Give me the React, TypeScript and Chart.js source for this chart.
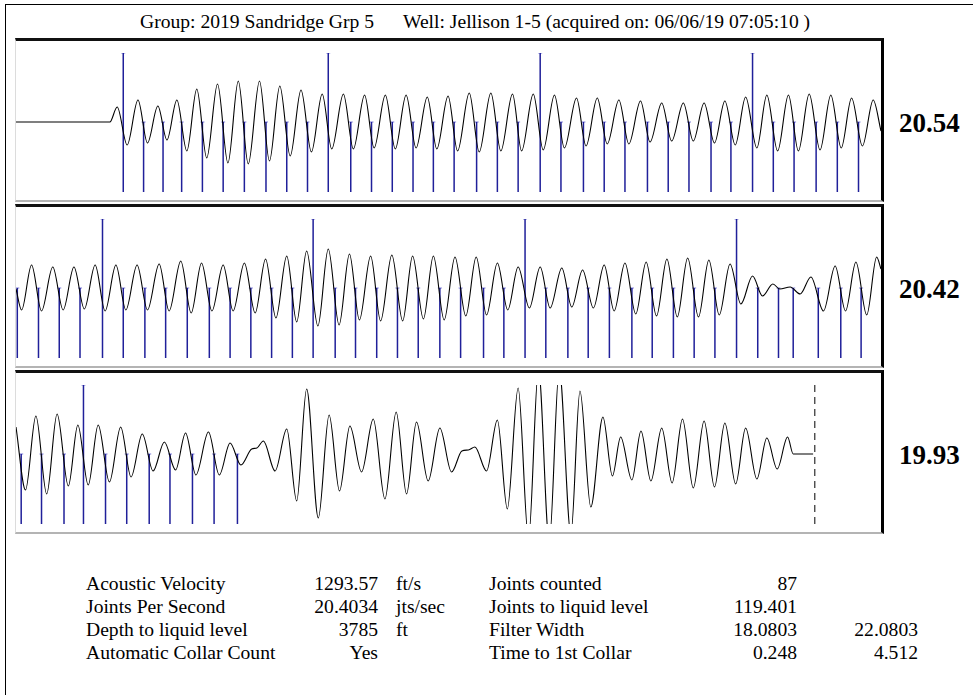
import React, { useEffect, useRef } from "react";
import { Chart, registerables } from "chart.js";

Chart.register(...registerables);

type Sample = [number, number];

// ---------- data ----------
const HEADER_GROUP = "Group: 2019 Sandridge Grp 5";
const HEADER_WELL = "Well: Jellison 1-5 (acquired on: 06/06/19 07:05:10 )";

// time window (s) of each trace strip
const PANEL_START = [0, 2, 4];
const PANEL_SPAN = 2;
const PANEL_RATES = ["20.54", "20.42", "19.93"];

// amplitude window of the strips
const AMP_MIN = -70;
const AMP_MAX = 69;
const SHORT_TOP = 0;

// acoustic trace, [time s, amplitude] (extrema of each cycle)
const WAVE_1: Sample[] = [
  [0, 0], [0.217, 0], [0.234, 15], [0.257, -23], [0.282, 22], [0.304, -21], [0.328, 16], [0.349, -18],
  [0.372, 22], [0.395, -29], [0.418, 33], [0.441, -36], [0.466, 38], [0.49, -41], [0.514, 41], [0.537, -42],
  [0.563, 41], [0.586, -39], [0.61, 36], [0.634, -34], [0.659, 32], [0.683, -30], [0.708, 28], [0.73, -27],
  [0.757, 28], [0.78, -27], [0.806, 27], [0.828, -26], [0.854, 27], [0.877, -27], [0.902, 27], [0.925, -26],
  [0.951, 25], [0.973, -27], [0.999, 26], [1.021, -29], [1.048, 29], [1.071, -30], [1.098, 29], [1.121, -29],
  [1.148, 28], [1.169, -29], [1.196, 28], [1.219, -28], [1.245, 27], [1.268, -26], [1.296, 24], [1.318, -24],
  [1.344, 24], [1.367, -22], [1.394, 22], [1.417, -22], [1.444, 21], [1.466, -20], [1.493, 19], [1.516, -19],
  [1.543, 19], [1.566, -19], [1.591, 19], [1.615, -21], [1.639, 21], [1.663, -23], [1.687, 25], [1.713, -26],
  [1.736, 27], [1.761, -29], [1.786, 27], [1.809, -29], [1.834, 28], [1.859, -28], [1.884, 27], [1.908, -26],
  [1.932, 24], [1.957, -24], [1.982, 22], [2.0, -9],
];

const WAVE_2: Sample[] = [
  [2.0, -1], [2.013, -22], [2.036, 23], [2.059, -23], [2.085, 21], [2.109, -22], [2.134, 21], [2.158, -21],
  [2.183, 23], [2.206, -23], [2.231, 23], [2.254, -22], [2.28, 23], [2.304, -22], [2.331, 24], [2.354, -23],
  [2.381, 27], [2.405, -25], [2.429, 25], [2.453, -23], [2.479, 23], [2.502, -23], [2.528, 25], [2.553, -25],
  [2.577, 29], [2.601, -30], [2.626, 32], [2.649, -34], [2.672, 37], [2.698, -38], [2.722, 39], [2.747, -37],
  [2.771, 34], [2.794, -32], [2.82, 32], [2.843, -33], [2.869, 33], [2.894, -33], [2.917, 32], [2.942, -31],
  [2.965, 32], [2.99, -32], [3.015, 31], [3.04, -28], [3.064, 31], [3.088, -27], [3.113, 25], [3.137, -22],
  [3.161, 21], [3.187, -20], [3.212, 21], [3.235, -20], [3.262, 20], [3.285, -19], [3.31, 18], [3.335, -20],
  [3.36, 23], [3.383, -23], [3.408, 25], [3.433, -26], [3.457, 26], [3.481, -28], [3.505, 29], [3.529, -29],
  [3.553, 30], [3.578, -29], [3.602, 28], [3.626, -27], [3.651, 24], [3.676, -16], [3.703, 12], [3.726, -8],
  [3.75, 4], [3.766, -1], [3.79, 1], [3.813, -6], [3.838, 11], [3.867, -23], [3.894, 22], [3.918, -23],
  [3.942, 26], [3.967, -27], [3.99, 31], [4.0, 19],
];

const WAVE_3: Sample[] = [
  [4.0, 27], [4.022, -36], [4.046, 38], [4.071, -40], [4.095, 40], [4.121, -32], [4.143, 29], [4.167, -31],
  [4.19, 29], [4.216, -28], [4.242, 27], [4.266, -23], [4.292, 20], [4.317, -17], [4.343, 12], [4.369, -16],
  [4.392, 21], [4.416, -21], [4.445, 22], [4.47, -21], [4.495, 11], [4.52, -11], [4.545, 5], [4.557, 6],
  [4.572, 13], [4.599, -17], [4.626, 25], [4.649, -47], [4.672, 65], [4.699, -64], [4.724, 39], [4.748, -37],
  [4.772, 28], [4.799, -18], [4.826, 35], [4.853, -45], [4.879, 42], [4.903, -40], [4.926, 32], [4.953, -27],
  [4.98, 26], [5.007, -18], [5.031, 3], [5.046, 4], [5.061, 7], [5.088, -17], [5.113, 34], [5.136, -55],
  [5.161, 66], [5.185, -85], [5.208, 85], [5.233, -88], [5.256, 85], [5.283, -80], [5.304, 63], [5.329, -53],
  [5.357, 37], [5.379, -22], [5.398, 17], [5.424, -26], [5.445, 23], [5.468, -27], [5.493, 26], [5.517, -29],
  [5.541, 35], [5.566, -34], [5.591, 33], [5.615, -33], [5.639, 31], [5.664, -30], [5.687, 26], [5.713, -25],
  [5.736, 16], [5.76, -15], [5.784, 17], [5.797, 0], [5.843, 0],
];

// collar picks (s)
const SHORT_1 = [
  0.295, 0.34, 0.383, 0.431, 0.479, 0.528, 0.578, 0.626, 0.674,
  0.774, 0.822, 0.87, 0.918, 0.965, 1.013, 1.065, 1.113, 1.161,
  1.26, 1.312, 1.36, 1.408, 1.46, 1.508, 1.556, 1.607, 1.653,
  1.751, 1.799, 1.85, 1.899, 1.948,
];
const TALL_1 = [0.248, 0.722, 1.212, 1.703];

const SHORT_2 = [
  2.003, 2.052, 2.1, 2.148,
  2.248, 2.298, 2.346, 2.396, 2.447, 2.495, 2.543, 2.591, 2.639,
  2.738, 2.785, 2.834, 2.882, 2.93, 2.98, 3.028, 3.081, 3.128,
  3.225, 3.276, 3.323, 3.372, 3.424, 3.471, 3.52, 3.568, 3.616,
  3.715, 3.763, 3.797, 3.855, 3.907, 3.954,
];
const TALL_2 = [2.2, 2.687, 3.177, 3.666];

const SHORT_3 = [4.012, 4.059, 4.111, 4.207, 4.256, 4.308, 4.356, 4.408, 4.458, 4.512];
const TALL_3 = [4.156];

const LIQUID_MARK_3 = [5.847];

const TABLE_LEFT_LABELS = ["Acoustic Velocity", "Joints Per Second", "Depth to liquid level", "Automatic Collar Count"];
const TABLE_LEFT_VALUES = ["1293.57", "20.4034", "3785", "Yes"];
const TABLE_LEFT_UNITS = ["ft/s", "jts/sec", "ft", ""];
const TABLE_RIGHT_LABELS = ["Joints counted", "Joints to liquid level", "Filter Width", "Time to 1st Collar"];
const TABLE_RIGHT_VALUES = ["87", "119.401", "18.0803", "0.248"];
const TABLE_RIGHT_EXTRA = ["", "", "22.0803", "4.512"];

const WAVES = [WAVE_1, WAVE_2, WAVE_3];
const SHORTS = [SHORT_1, SHORT_2, SHORT_3];
const TALLS = [TALL_1, TALL_2, TALL_3];
const DASHED: number[][] = [[], [], LIQUID_MARK_3];

// ---------- layout ----------
const FONT = '"Liberation Serif", "Times New Roman", Times, serif';
const PANEL_TOPS = [38, 204, 370];
const PANEL_LEFT = 15;
const PANEL_W = 869;
const PANEL_H = 164;
const CHART_LEFT = 16;
const CHART_W = 865;
const CHART_TOP_OFF = 15;
const CHART_H = 139;
const MARK_COLOR = "#20209a";

function TracePanel({ index, top }: { index: number; top: number }) {
  const ref = useRef<HTMLCanvasElement | null>(null);

  useEffect(() => {
    if (!ref.current) return;
    const xmin = PANEL_START[index];
    const xmax = xmin + PANEL_SPAN;

    const marks: { t: number; topY: number }[] = [];
    SHORTS[index].forEach((t) => marks.push({ t, topY: SHORT_TOP }));
    TALLS[index].forEach((t) => marks.push({ t, topY: AMP_MAX }));
    marks.sort((a, b) => a.t - b.t);

    const markData: { x: number; y: number | null }[] = [];
    marks.forEach((m) => {
      markData.push({ x: m.t, y: AMP_MIN }, { x: m.t, y: m.topY }, { x: m.t, y: null });
    });
    const capData = marks.map((m) => ({ x: m.t, y: m.topY }));

    const datasets: any[] = [
      {
        data: WAVES[index].map(([x, y]) => ({ x, y })),
        borderColor: "#000",
        borderWidth: 1.1,
        pointRadius: 0,
        cubicInterpolationMode: "monotone",
        order: 0,
      },
      {
        data: markData,
        borderColor: MARK_COLOR,
        borderWidth: 1.5,
        pointRadius: 0,
        tension: 0,
        spanGaps: false,
        order: 2,
      },
      {
        data: capData,
        showLine: false,
        pointStyle: "line",
        pointRadius: 2,
        pointBorderWidth: 1,
        pointBorderColor: "#7c7cd8",
        pointBackgroundColor: "#7c7cd8",
        order: 3,
      },
    ];
    DASHED[index].forEach((t: number) => {
      datasets.push({
        data: [{ x: t, y: AMP_MAX }, { x: t, y: AMP_MIN }],
        borderColor: "#000",
        borderWidth: 1,
        borderDash: [7, 5],
        pointRadius: 0,
        order: 1,
      });
    });

    const chart = new Chart(ref.current, {
      type: "line",
      data: { datasets },
      options: {
        animation: false,
        responsive: false,
        maintainAspectRatio: false,
        events: [],
        layout: { padding: 0, autoPadding: false },
        plugins: { legend: { display: false }, tooltip: { enabled: false }, title: { display: false } },
        scales: {
          x: { type: "linear", min: xmin, max: xmax, display: false, offset: false },
          y: { type: "linear", min: AMP_MIN, max: AMP_MAX, display: false },
        },
      },
    } as any);
    return () => chart.destroy();
  }, [index]);

  return (
    <>
      <div
        style={{
          position: "absolute",
          left: PANEL_LEFT,
          top,
          width: PANEL_W,
          height: PANEL_H,
          boxSizing: "border-box",
          borderTop: "3px solid #111",
          borderRight: "3px solid #000",
          borderLeft: "1px solid #dcdcdc",
          borderBottom: "2px solid #b4b4b4",
        }}
      />
      <canvas
        ref={ref}
        width={CHART_W}
        height={CHART_H}
        style={{ position: "absolute", left: CHART_LEFT, top: top + CHART_TOP_OFF, width: CHART_W, height: CHART_H, display: "block" }}
      />
      <div
        style={{
          position: "absolute",
          left: 899,
          top: top + 72,
          fontSize: 27,
          lineHeight: 1,
          fontWeight: "bold",
          whiteSpace: "pre",
        }}
      >
        {PANEL_RATES[index]}
      </div>
    </>
  );
}

function SummaryTable() {
  const rowTops = [572, 595, 618, 641];
  const base: React.CSSProperties = { position: "absolute", fontSize: 19.6, lineHeight: "23px", whiteSpace: "pre" };
  return (
    <>
      {TABLE_LEFT_LABELS.map((label, i) => (
        <React.Fragment key={i}>
          <div style={{ ...base, left: 86, top: rowTops[i] }}>{label}</div>
          <div style={{ ...base, right: 973 - 378, top: rowTops[i], textAlign: "right" }}>{TABLE_LEFT_VALUES[i]}</div>
          <div style={{ ...base, left: 396, top: rowTops[i] }}>{TABLE_LEFT_UNITS[i]}</div>
          <div style={{ ...base, left: 489, top: rowTops[i] }}>{TABLE_RIGHT_LABELS[i]}</div>
          <div style={{ ...base, right: 973 - 797, top: rowTops[i], textAlign: "right" }}>{TABLE_RIGHT_VALUES[i]}</div>
          <div style={{ ...base, right: 973 - 918, top: rowTops[i], textAlign: "right" }}>{TABLE_RIGHT_EXTRA[i]}</div>
        </React.Fragment>
      ))}
    </>
  );
}

export default function App() {
  return (
    <div
      style={{
        position: "absolute",
        left: 0,
        top: 0,
        width: 973,
        height: 695,
        overflow: "hidden",
        background: "#fff",
        color: "#000",
        fontFamily: FONT,
      }}
    >
      <div style={{ position: "absolute", left: 5, top: 4, width: 1200, height: 1200, border: "1px solid #000" }} />
      <div style={{ position: "absolute", left: 140, top: 12, fontSize: 19.6, lineHeight: 1, whiteSpace: "pre" }}>{HEADER_GROUP}</div>
      <div style={{ position: "absolute", left: 403, top: 12, fontSize: 19.6, lineHeight: 1, whiteSpace: "pre" }}>{HEADER_WELL}</div>
      {PANEL_TOPS.map((top, i) => (
        <TracePanel key={i} index={i} top={top} />
      ))}
      <SummaryTable />
    </div>
  );
}
